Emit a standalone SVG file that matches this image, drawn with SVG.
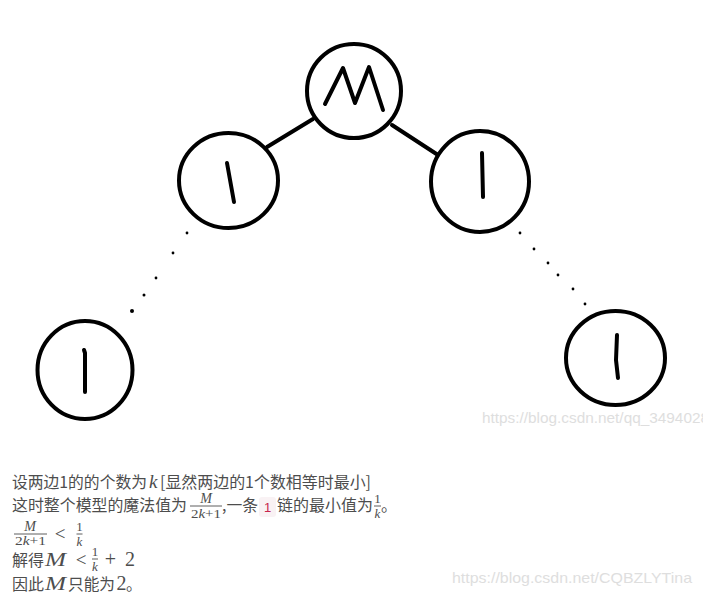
<svg xmlns="http://www.w3.org/2000/svg" width="703" height="597" viewBox="0 0 703 597">
<style>
.node{fill:#fff;stroke:#000;stroke-width:4}
.ink{fill:none;stroke:#000;stroke-width:4;stroke-linecap:round;stroke-linejoin:round}
.edge{stroke:#000;stroke-width:4;stroke-linecap:round}
.dot{fill:#000}
.t{font-family:"Noto Sans CJK SC","Microsoft YaHei",sans-serif;font-size:16px;fill:#4d4d4d}
.m{font-family:"Liberation Serif","Times New Roman",serif;fill:#4d4d4d}
.mi{font-family:"Liberation Serif","Times New Roman",serif;font-style:italic;fill:#4d4d4d}
.bar{stroke:#4d4d4d;stroke-width:0.9}
.wm{font-family:"Liberation Sans",Arial,sans-serif;font-size:15px;fill:#dedede}
</style>
<rect width="703" height="597" fill="#fff"/>
<g id="connectors">
<line class="edge" x1="267" y1="147" x2="313" y2="119"/>
<line class="edge" x1="392" y1="125" x2="438" y2="155"/>
<circle class="dot" cx="187" cy="233" r="1.4"/>
<circle class="dot" cx="173" cy="253" r="1.4"/>
<circle class="dot" cx="156" cy="278" r="1.4"/>
<circle class="dot" cx="144" cy="295" r="1.5"/>
<circle class="dot" cx="132" cy="311" r="2"/>
<circle class="dot" cx="520" cy="233" r="1.4"/>
<circle class="dot" cx="534" cy="249" r="1.4"/>
<circle class="dot" cx="548" cy="263" r="1.4"/>
<circle class="dot" cx="558" cy="275" r="1.4"/>
<circle class="dot" cx="573" cy="289" r="1.4"/>
<circle class="dot" cx="585" cy="304" r="1.4"/>
</g>
<g id="node-M">
<ellipse class="node" cx="354" cy="91" rx="47" ry="47"/>
<path class="ink" d="M325,104 L343,68 L355,103 L369,67 L383,110"/>
</g>
<g id="node-left">
<ellipse class="node" cx="228.5" cy="180.5" rx="49.5" ry="47.5"/>
<path class="ink" d="M227,163 L234,202"/>
</g>
<g id="node-right">
<ellipse class="node" cx="480" cy="181.5" rx="49" ry="50.5"/>
<path class="ink" d="M482,153 L483,197"/>
</g>
<g id="node-bottom-left">
<ellipse class="node" cx="85" cy="370" rx="47.5" ry="49"/>
<path class="ink" d="M84,350 L85,353 L85,392"/>
</g>
<g id="node-bottom-right">
<ellipse class="node" cx="615.5" cy="358" rx="49.5" ry="47"/>
<path class="ink" d="M617,335 L616,360 L618,378"/>
</g>
<text class="wm" x="482" y="423" textLength="227" lengthAdjust="spacingAndGlyphs">https://blog.csdn.net/qq_3494028</text>
<g id="text">
<text class="t" x="12" y="488" textLength="135" lengthAdjust="spacingAndGlyphs">设两边1的的个数为</text>
<text class="mi" x="149" y="488" font-size="19">k</text>
<text class="t" x="160" y="488" textLength="211" lengthAdjust="spacingAndGlyphs">[显然两边的1个数相等时最小]</text>

<text class="t" x="12" y="511" textLength="175" lengthAdjust="spacingAndGlyphs">这时整个模型的魔法值为</text>
<text class="mi" x="206" y="503" font-size="14" text-anchor="middle">M</text>
<line class="bar" x1="190" y1="506" x2="222" y2="506"/>
<text class="m" x="191" y="518" font-size="13" textLength="30" lengthAdjust="spacingAndGlyphs">2<tspan font-style="italic">k</tspan>+1</text>
<text class="t" x="222" y="511" textLength="36" lengthAdjust="spacingAndGlyphs">,一条</text>
<rect x="259" y="497" width="17" height="20" rx="3" fill="#f9f2f4"/>
<text x="267.5" y="512" font-family="Liberation Sans,Arial,sans-serif" font-size="13" fill="#c7254e" text-anchor="middle">1</text>
<text class="t" x="277" y="511" textLength="96" lengthAdjust="spacingAndGlyphs">链的最小值为</text>
<text class="m" x="377.5" y="503" font-size="13" text-anchor="middle">1</text>
<line class="bar" x1="374" y1="506" x2="381" y2="506"/>
<text class="mi" x="377.5" y="518" font-size="13" text-anchor="middle">k</text>
<text class="t" x="381" y="511">。</text>

<text class="mi" x="30" y="531" font-size="14" text-anchor="middle">M</text>
<line class="bar" x1="14" y1="534" x2="47" y2="534"/>
<text class="m" x="15" y="545" font-size="13" textLength="31" lengthAdjust="spacingAndGlyphs">2<tspan font-style="italic">k</tspan>+1</text>
<text class="m" x="60" y="540" font-size="19" text-anchor="middle">&lt;</text>
<text class="m" x="79.5" y="531" font-size="13" text-anchor="middle">1</text>
<line class="bar" x1="76.5" y1="534" x2="82.5" y2="534"/>
<text class="mi" x="79.5" y="546" font-size="13" text-anchor="middle">k</text>

<text class="t" x="12" y="566" textLength="32" lengthAdjust="spacingAndGlyphs">解得</text>
<text class="mi" x="45" y="566" font-size="19" textLength="21" lengthAdjust="spacingAndGlyphs">M</text>
<text class="m" x="81" y="566" font-size="19" text-anchor="middle">&lt;</text>
<text class="m" x="95" y="556" font-size="13" text-anchor="middle">1</text>
<line class="bar" x1="92" y1="559" x2="98" y2="559"/>
<text class="mi" x="95" y="571" font-size="13" text-anchor="middle">k</text>
<text class="m" x="110.5" y="566" font-size="20" text-anchor="middle">+</text>
<text class="m" x="130" y="566" font-size="20" text-anchor="middle">2</text>

<text class="t" x="12" y="590" textLength="32" lengthAdjust="spacingAndGlyphs">因此</text>
<text class="mi" x="45" y="590" font-size="19" textLength="21" lengthAdjust="spacingAndGlyphs">M</text>
<text class="t" x="68" y="590" textLength="47" lengthAdjust="spacingAndGlyphs">只能为</text>
<text class="m" x="121.5" y="590" font-size="20" text-anchor="middle">2</text>
<text class="t" x="126" y="590">。</text>
</g>
<text class="wm" x="452" y="583" textLength="240" lengthAdjust="spacingAndGlyphs">https://blog.csdn.net/CQBZLYTina</text>
</svg>
